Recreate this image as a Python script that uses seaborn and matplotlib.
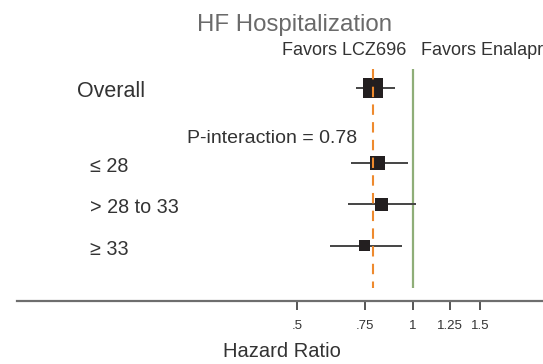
import numpy as np
import pandas as pd
import matplotlib
matplotlib.use("Agg")
import matplotlib.pyplot as plt
import matplotlib.transforms as mtransforms
from matplotlib.ticker import FixedLocator, FixedFormatter, NullLocator
import seaborn as sns

# ---- data -------------------------------------------------------------
rows = ["Overall", "\u2264 28", "> 28 to 33", "\u2265 33"]
hr = [0.79, 0.81, 0.83, 0.75]
ci_low = [0.71, 0.69, 0.68, 0.61]
ci_high = [0.90, 0.97, 1.02, 0.94]
p_interaction = 0.78
tick_values = [0.5, 0.75, 1.0, 1.25, 1.5]
tick_labels = [".5", ".75", "1", "1.25", "1.5"]

# ---- style ------------------------------------------------------------
sns.set_theme(style="white")
plt.rcParams["font.family"] = ["Liberation Sans", "DejaVu Sans"]

W, H, DPI = 543, 364, 100
box_px = [20, 14.5, 12.5, 11]          # square side length in pixels
TXT = "#333333"

df = pd.DataFrame({"row": rows, "hr": hr, "lo": ci_low, "hi": ci_high})
# overall row on top, subgroup rows below after a gap
df["y"] = np.r_[0.0, 1.82 + np.arange(len(rows) - 1)]
df["s"] = [(p * 72 / DPI) ** 2 for p in box_px]

fig = plt.figure(figsize=(W / DPI, H / DPI), dpi=DPI)
ax = fig.add_axes([0, 0, 1, 1])
ax.set_xscale("log")

# map log-x and row units onto the canvas
px_per_ln = 166.5
x_one = 412.7
ax.set_xlim(np.exp((0 - x_one) / px_per_ln), np.exp((W - x_one) / px_per_ln))
y0, px_per_row = 88.0, 41.3
ax.set_ylim((H - y0) / px_per_row, (0 - y0) / px_per_row)

# reference lines
ref_top, ref_bot = (69 - y0) / px_per_row, (288 - y0) / px_per_row
ax.vlines(1.0, ref_top, ref_bot, color="#8fae78", lw=1.6, zorder=1)
ax.vlines(hr[0], ref_top, ref_bot, color="#ee8a2e", lw=1.5,
          linestyles=(0, (5, 3.5)), zorder=5)

# confidence intervals and point estimates
ax.hlines(df["y"], df["lo"], df["hi"], color="#444444", lw=1.4, zorder=2)
sns.scatterplot(data=df, x="hr", y="y", marker="s", s=df["s"].values,
                color="#231f20", linewidth=0, legend=False, ax=ax, zorder=3)

# row labels
lbl = mtransforms.blended_transform_factory(fig.transFigure, ax.transData)
base_off = 9 / px_per_row
ax.text(77 / W, df["y"][0] + base_off, rows[0], transform=lbl,
        fontsize=15.5, color=TXT, va="baseline", ha="left")
for yy, name in zip(df["y"][1:], rows[1:]):
    ax.text(90 / W, yy + base_off, name, transform=lbl,
            fontsize=14.2, color=TXT, va="baseline", ha="left")
ax.text(187 / W, (143.3 - y0) / px_per_row, f"P-interaction = {p_interaction:.2f}",
        transform=lbl, fontsize=14, color=TXT, va="baseline", ha="left")

# bottom axis
axis_y = (300.7 - y0) / px_per_row
for side in ["top", "right", "left"]:
    ax.spines[side].set_visible(False)
ax.spines["bottom"].set_position(("data", axis_y))
ax.spines["bottom"].set_bounds(np.exp((17 - x_one) / px_per_ln), ax.get_xlim()[1])
ax.spines["bottom"].set_color("#6e6e6e")
ax.spines["bottom"].set_linewidth(1.6)
ax.xaxis.set_major_locator(FixedLocator(tick_values))
ax.xaxis.set_major_formatter(FixedFormatter(tick_labels))
ax.xaxis.set_minor_locator(NullLocator())
ax.tick_params(axis="x", direction="out", length=6.5, width=1.4, color="#555555",
               labelsize=9.5, labelcolor=TXT, pad=7.5, bottom=True)
ax.set_yticks([])
ax.set_xlabel("")
ax.set_ylabel("")

# titles and annotations
fig.text(294.7 / W, 1 - 30.7 / H, "HF Hospitalization", fontsize=17.3,
         color="#6a6a6a", ha="center", va="baseline")
fig.text(406.7 / W, 1 - 55 / H, "Favors LCZ696", fontsize=13, color=TXT,
         ha="right", va="baseline")
fig.text(420.7 / W, 1 - 55 / H, "Favors Enalapril", fontsize=13, color=TXT,
         ha="left", va="baseline")
fig.text(281.5 / W, 1 - 357 / H, "Hazard Ratio", fontsize=14.5, color=TXT,
         ha="center", va="baseline")

fig.savefig("out.png", dpi=DPI)
